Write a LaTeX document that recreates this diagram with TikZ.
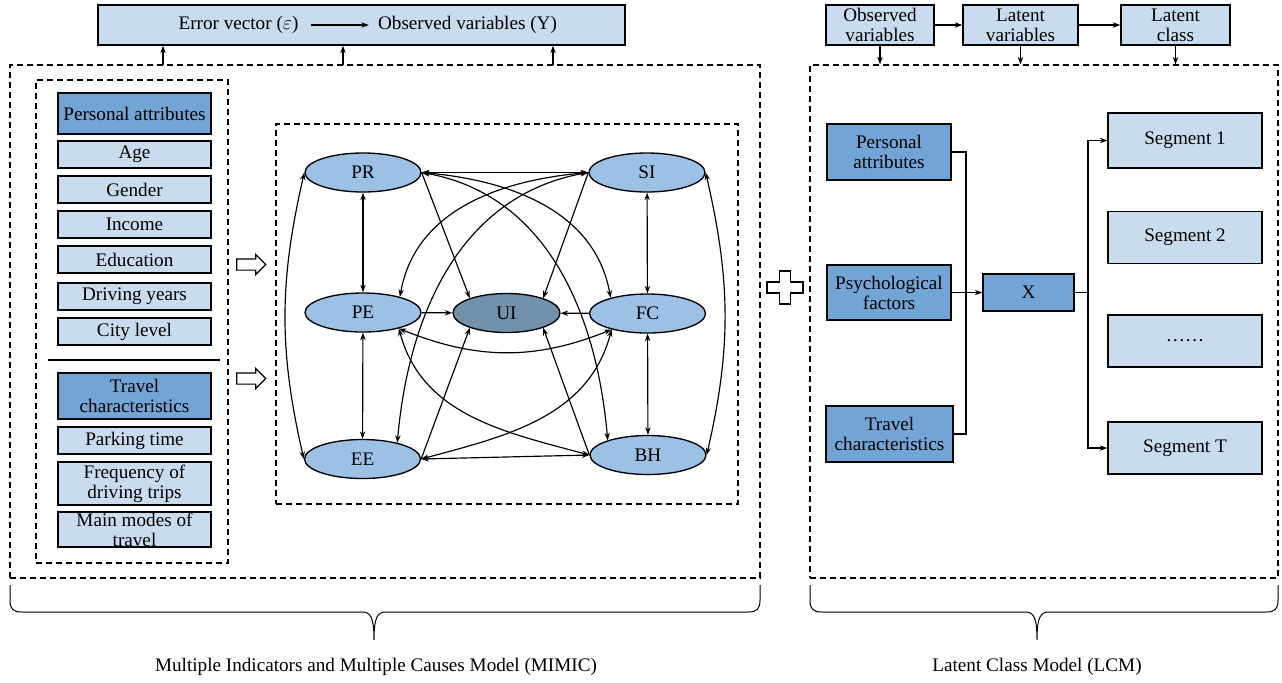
\documentclass[tikz,border=0pt]{standalone}
\usepackage{fontspec}
\setmainfont{Liberation Serif}
\usepackage{tikz}
\usetikzlibrary{arrows.meta,positioning,shapes.geometric,shapes.arrows}
\definecolor{boxlight}{HTML}{C9DCEE}
\definecolor{boxdark}{HTML}{72A4D6}
\definecolor{latentfill}{HTML}{9DC1E4}
\definecolor{outcomefill}{HTML}{7291AA}

\begin{document}
\begin{tikzpicture}[
  x=0.6pt, y=-0.6pt,
  font=\fontsize{11.5}{12}\selectfont,
  >={Stealth[length=4.5pt,width=3.2pt]},
  lightbox/.style={draw, line width=0.8pt, fill=boxlight, align=center, inner sep=1pt, minimum width=91.8pt, minimum height=16.2pt},
  darkbox/.style={draw, line width=0.8pt, fill=boxdark, align=center, inner sep=1pt},
  latent/.style={ellipse, draw, line width=0.8pt, fill=latentfill, minimum width=69.6pt, minimum height=23.4pt},
  dashframe/.style={draw, dashed, dash pattern=on 3.6pt off 2.4pt, line width=0.7pt},
  hollowarrow/.style={single arrow, draw, line width=0.7pt, fill=white, inner sep=3pt, minimum height=17.4pt, minimum width=11.4pt, single arrow head extend=2.7pt},
  link/.style={line width=0.7pt}
]

  \useasboundingbox (0,0) rectangle (1282,682);

  % Frames
  \node[dashframe, minimum width=450pt, minimum height=307.8pt] (lmimic) at (385,321.5) {};
  \node[dashframe, minimum width=280.8pt, minimum height=307.8pt] (rlcm) at (1044,321.5) {};
  \node[dashframe, minimum width=115.2pt, minimum height=289.8pt] (causes) at (132,321.5) {};
  \node[dashframe, minimum width=277.2pt, minimum height=228pt] (sem) at (507,314) {};

  % Top bar (MIMIC)
  \node[lightbox, minimum width=316.2pt, minimum height=24pt] (errbar) at (361.5,25) {};
  \node (eps) at (238.5,25) {Error vector ($\varepsilon$)};
  \node (obsy) at (467.5,25) {Observed variables (Y)};
  \draw[link,->,shorten <=4pt,shorten >=2pt] (eps.east) -- (obsy.west);
  \foreach \x [count=\i] in {163,343,553} {
    \coordinate (t\i) at (\x,65);
    \draw[link,->] (t\i) -- (t\i |- errbar.south);
  }

  % Causes: personal attributes
  \node[darkbox, minimum width=91.8pt, minimum height=24.6pt] (pers) at (134.5,113.5) {Personal attributes};
  \foreach \nm/\y/\lbl in {age/154.5/Age, gender/189.5/Gender, income/224.5/Income, edu/259.5/Education, drive/296.5/Driving years, city/331.5/City level, park/440.5/Parking time}
    \node[lightbox] (\nm) at (134.5,\y) {\lbl};
  \draw[line width=0.7pt] (48,360) -- (220,360);

  % Causes: travel characteristics
  \node[darkbox, minimum width=91.8pt, minimum height=27.6pt] (trav) at (134.5,396) {Travel\\characteristics};
  \node[lightbox, minimum height=25.8pt] (freq) at (134.5,483.5) {Frequency of\\driving trips};
  \node[lightbox, minimum height=21pt, inner sep=0pt] (modes) at (134.5,529.5) {Main modes of\\travel};

  % Hollow arrows
  \node[hollowarrow] (harrow1) at (248.5,264.5) {};
  \node[hollowarrow] (harrow2) at (248.5,378.5) {};

  % Latent variables
  \node[latent] (pr) at (363,172.5) {PR};
  \node[latent] (si) at (647,172.5) {SI};
  \node[latent] (pe) at (363,312.5) {PE};
  \node[latent, fill=outcomefill, minimum width=64.2pt] (ui) at (506.5,313) {UI};
  \node[latent] (fc) at (647.5,313.5) {FC};
  \node[latent] (ee) at (362.5,459) {EE};
  \node[latent] (bh) at (648,455) {BH};

  % Straight links
  \draw[link,<->] (pr) -- (si);
  \draw[link,<->] (pr) -- (pe);
  \draw[link,<->] (si) -- (fc);
  \draw[link,<->] (pe) -- (ee);
  \draw[link,<->] (fc) -- (bh);
  \draw[link,<->] (ee.east) -- (bh.west);
  \draw[link,->] (pe) -- (ui);
  \draw[link,->] (fc) -- (ui);
  \draw[link,->] (pr.east) -- (ui.158);
  \draw[link,->] (si.west) -- (ui.22);
  \draw[link,->] (ee.east) -- (ui.202);
  \draw[link,->] (bh.west) -- (ui.338);

  % Curved links
  \draw[link,<->] (pr.west) to[out=-103, in=103] (ee.west);
  \draw[link,<->] (si.east) to[out=-77, in=77] (bh.east);
  \draw[link,<->] (pr.east) to[out=-5, in=100] (fc.157);
  \draw[link,<->] (pr.east) to[out=-10, in=95] (bh.160);
  \draw[link,<->] (si.west) to[out=185, in=80] (pe.23);
  \draw[link,<->] (si.west) to[out=190, in=85] (ee.25);
  \draw[link,<->] (pe.336) to[out=-22, in=202] (fc.204);
  \draw[link,<->] (pe.336) to[out=-75, in=165] (bh.west);
  \draw[link,<->] (ee.east) to[out=15, in=-105] (fc.204);

  % Plus sign
  \draw[line width=0.8pt, fill=white, shift={(785,287.5)}]
    (-18,-5.5) -- (-5.5,-5.5) -- (-5.5,-16.5) -- (5.5,-16.5) -- (5.5,-5.5) -- (18,-5.5)
    -- (18,5.5) -- (5.5,5.5) -- (5.5,16.5) -- (-5.5,16.5) -- (-5.5,5.5) -- (-18,5.5) -- cycle;

  % Top boxes (LCM)
  \node[lightbox, minimum width=64.8pt, minimum height=24pt, inner sep=0pt] (ov) at (880,25) {Observed\\variables};
  \node[lightbox, minimum width=69pt, minimum height=24pt, inner sep=0pt] (lv) at (1020.5,25) {Latent\\variables};
  \node[lightbox, minimum width=65.4pt, minimum height=24pt, inner sep=0pt] (lc) at (1175.5,25) {Latent\\class};
  \draw[link,->] (ov) -- (lv);
  \draw[link,->] (lv) -- (lc);
  \draw[link,->] (ov.south) -- (ov.south |- rlcm.north);
  \draw[link,->] (lv.south) -- (lv.south |- rlcm.north);
  \draw[link,->] (lc.south) -- (lc.south |- rlcm.north);

  % LCM inputs
  \node[darkbox, minimum width=74.4pt, minimum height=33.6pt] (pa) at (889,152) {Personal\\attributes};
  \node[darkbox, minimum width=74.4pt, minimum height=33pt] (pf) at (889,292.5) {Psychological\\factors};
  \node[darkbox, minimum width=76.2pt, minimum height=33.6pt] (tc) at (889.5,434) {Travel\\characteristics};
  \node[darkbox, minimum width=54.6pt, minimum height=22.2pt] (xx) at (1028.5,292.5) {X};

  % Segments
  \node[lightbox, minimum width=92.4pt, minimum height=33pt] (seg1) at (1185,140.5) {Segment 1};
  \node[lightbox, minimum width=92.4pt, minimum height=31.2pt] (seg2) at (1185,237.5) {Segment 2};
  \node[lightbox, minimum width=92.4pt, minimum height=31.2pt] (segdots) at (1185,341) {……};
  \node[lightbox, minimum width=92.4pt, minimum height=31.2pt] (segT) at (1185,448) {Segment T};

  \coordinate (jl) at (966,292.5);
  \coordinate (jr) at (1088,292.5);
  \draw[link] (pa.east) -| (jl) |- (tc.east);
  \draw[link,->] (pf.east) -- (xx.west);
  \draw[link] (xx.east) -- (jr);
  \draw[link,->] (jr) |- (seg1.west);
  \draw[link,->] (jr) |- (segT.west);

  % Braces
  \draw[line width=0.6pt] (10,585) -- (10,600) .. controls (10,609) and (13,612) .. (22,612) -- (362,612)
    .. controls (370,612) and (374,616) .. (374,640) .. controls (374,616) and (378,612) .. (386,612)
    -- (748,612) .. controls (757,612) and (760,609) .. (760,600) -- (760,585);
  \draw[line width=0.6pt] (810,585) -- (810,600) .. controls (810,609) and (813,612) .. (822,612) -- (1025,612)
    .. controls (1033,612) and (1037,616) .. (1037,640) .. controls (1037,616) and (1041,612) .. (1049,612)
    -- (1266,612) .. controls (1275,612) and (1278,609) .. (1278,600) -- (1278,585);
  \node (mimiclbl) at (376,667) {Multiple Indicators and Multiple Causes Model (MIMIC)};
  \node (lcmlbl) at (1037,667) {Latent Class Model (LCM)};

\end{tikzpicture}
\end{document}
